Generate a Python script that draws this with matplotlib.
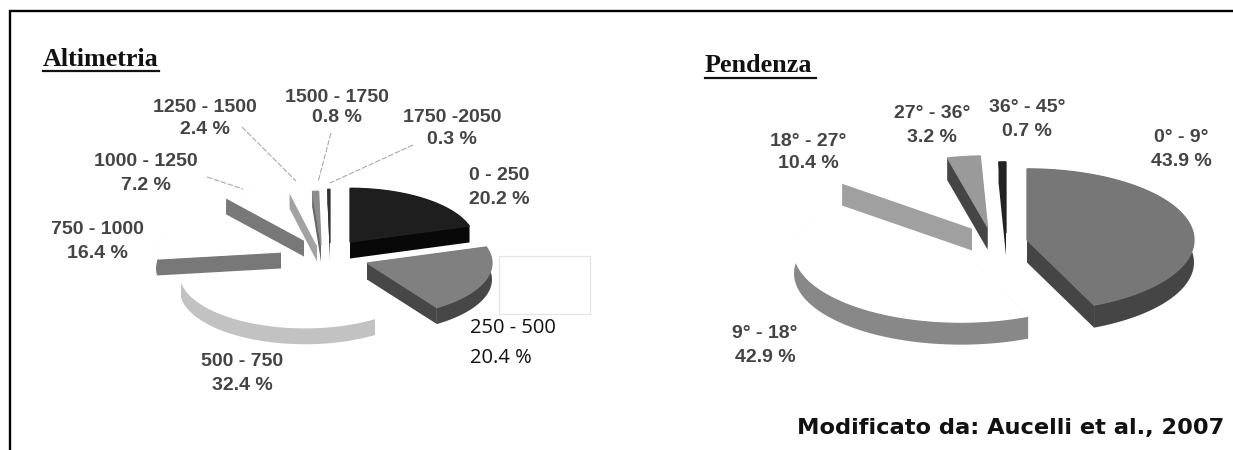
import numpy as np
import matplotlib
matplotlib.use("Agg")
import matplotlib.pyplot as plt
from matplotlib.patches import Polygon, Rectangle

# ---- data ----
alt_ranges = ["0 - 250", "250 - 500", "500 - 750", "750 - 1000", "1000 - 1250",
              "1250 - 1500", "1500 - 1750", "1750 -2050"]
alt_values = [20.2, 20.4, 32.4, 16.4, 7.2, 2.4, 0.8, 0.3]
pen_ranges = ["0° - 9°", "9° - 18°", "18° - 27°", "27° - 36°", "36° - 45°"]
pen_values = [43.9, 42.9, 10.4, 3.2, 0.7]

# ---- styling / layout (pixel canvas) ----
W, H = 1233, 450
alt_top = ["#1e1e1e", "#808080", "#ffffff", "#ffffff", "#ffffff", "#ffffff", "#8c8c8c", "#333333"]
alt_side = ["#080808", "#474747", "#c2c2c2", "#787878", "#787878", "#a2a2a2", "#666666", "#222222"]
pen_top = ["#777777", "#ffffff", "#ffffff", "#9a9a9a", "#222222"]
pen_side = ["#454545", "#888888", "#a0a0a0", "#454545", "#222222"]
# where each exploded slice's tip sits
alt_tips = [(350, 242), (367, 263), (305, 274), (281, 252), (304, 240), (317, 245), (321, 245), (330, 243)]
pen_tips = [(1027, 240), (961, 251), (972, 228), (987.5, 227), (1006, 233)]
alt_label_pos = [(499, 175, 199), (0, 0, 0), (242, 362, 386), (97, 230, 253), (146, 161, 185),
                 (205, 107, 130), (337, 97, 117), (452, 117, 140)]
pen_label_pos = [(1181, 138, 162), (765, 334, 358), (808, 141, 164), (932, 113, 137), (1027, 108, 132)]
LABEL_FONT = dict(family="Liberation Sans", weight="bold", size=14, color="#444444",
                  ha="center", va="center")

fig = plt.figure(figsize=(W / 100, H / 100), dpi=100)
ax = fig.add_axes([0, 0, 1, 1])
ax.set_xlim(0, W)
ax.set_ylim(H, 0)
ax.axis("off")


def draw_pie(values, tips, radius, squash, depth, tops, sides):
    fractions = np.array(values) / np.sum(values)
    edges = np.concatenate([[0], np.cumsum(fractions)]) * 2 * np.pi
    for i, (tip, top, side) in enumerate(zip(tips, tops, sides)):
        t = np.linspace(edges[i], edges[i + 1], max(3, int(fractions[i] * 200)))
        ax_, ay_ = tip[0] + radius * np.sin(t), tip[1] - radius * squash * np.cos(t)
        z = 2 + i * 0.01
        # outer wall
        wall = np.r_[np.c_[ax_, ay_], np.c_[ax_[::-1], ay_[::-1] + depth]]
        ax.add_patch(Polygon(wall, closed=True, fc=side, ec="none", lw=0, zorder=z))
        # radial walls
        for j in (0, -1):
            quad = [tip, (ax_[j], ay_[j]), (ax_[j], ay_[j] + depth), (tip[0], tip[1] + depth)]
            ax.add_patch(Polygon(quad, closed=True, fc=side, ec="none", lw=0, zorder=z))
        # top face
        xs, ys = np.r_[tip[0], ax_], np.r_[tip[1], ay_]
        ax.add_patch(Polygon(np.c_[xs, ys], closed=True, fc=top, ec=top, lw=0.9, zorder=z + 0.005))


draw_pie(alt_values, alt_tips, 125, 0.43, 16.5, alt_top, alt_side)
draw_pie(pen_values, pen_tips, 167, 0.426, 22.5, pen_top, pen_side)

# frame
ax.plot([9.5, 9.5, W], [H, 11, 11], color="black", lw=1.7, solid_joinstyle="miter", zorder=5)

# titles
ax.text(43, 60, "Altimetria", family="Liberation Serif", weight="bold", size=18.8,
        color="#111111", ha="left", va="center")
ax.plot([43, 159], [70.5, 70.5], color="#111111", lw=1.6)
ax.text(705, 66, "Pendenza", family="Liberation Serif", weight="bold", size=18.8,
        color="#111111", ha="left", va="center")
ax.plot([705, 816], [78, 78], color="#111111", lw=1.6)

# leader lines
for (x0, y0), (x1, y1) in [((413, 145), (330, 183)), ((331, 133), (318, 182)),
                           ((242, 127), (296, 181)), ((207, 177), (243, 189))]:
    ax.plot([x0, x1], [y0, y1], color="#aaaaaa", lw=0.8, ls=(0, (5, 1.5)), zorder=4)

# white patch hiding the original label
ax.add_patch(Rectangle((499, 256), 91, 58, fc="white", ec="#e4e4e4", lw=0.9, zorder=4))

# labels
for name, val, (x, y0, y1) in zip(alt_ranges, alt_values, alt_label_pos):
    if name == "250 - 500":
        continue
    ax.text(x, y0, name, **LABEL_FONT)
    ax.text(x, y1, f"{val} %", **LABEL_FONT)
for name, val, (x, y0, y1) in zip(pen_ranges, pen_values, pen_label_pos):
    ax.text(x, y0, name, **LABEL_FONT)
    ax.text(x, y1, f"{val} %", **LABEL_FONT)
ax.text(470, 328, alt_ranges[1], family="Open Sans", size=14.5, color="#111111", ha="left", va="center")
ax.text(470, 358, f"{alt_values[1]} %", family="Open Sans", size=14.5, color="#111111", ha="left", va="center")

ax.text(1224, 428, "Modificato da: Aucelli et al., 2007", family="DejaVu Sans", weight="bold",
        size=16.2, color="#111111", ha="right", va="center")

fig.savefig("out.png", dpi=100, facecolor="white")
